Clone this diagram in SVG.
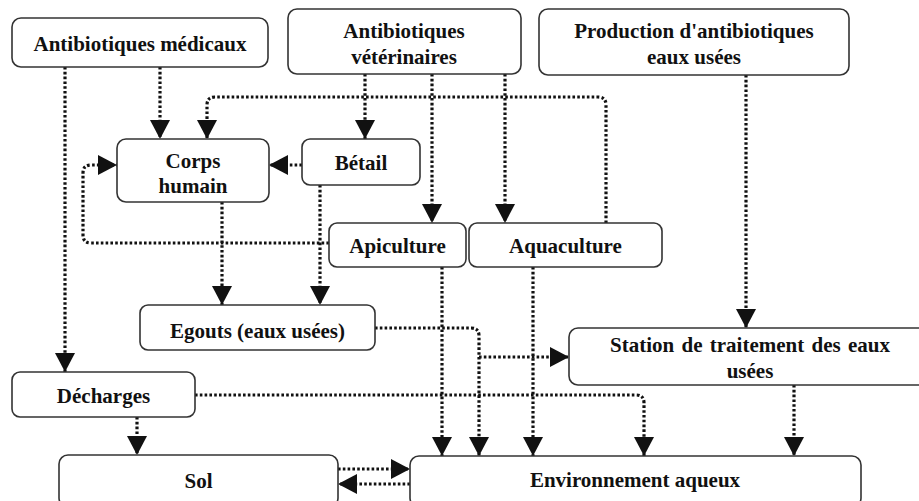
<svg xmlns="http://www.w3.org/2000/svg" width="919" height="501" viewBox="0 0 919 501">
<style>
.box{fill:#fff;stroke:#333;stroke-width:1.6}
.t{font-family:"Liberation Serif","Times New Roman",serif;font-weight:bold;font-size:21px;fill:#111;text-anchor:middle}
.c{fill:none;stroke:#111;stroke-width:3.2;stroke-dasharray:2.6 2.2}
</style>
<defs>
<marker id="ah" viewBox="0 0 19 20" refX="19" refY="10" markerWidth="19" markerHeight="20" markerUnits="userSpaceOnUse" orient="auto">
<path d="M0,0 L19,10 L0,20 z" fill="#111"/>
</marker>
</defs>
<rect width="919" height="501" fill="#fff"/>
<g id="connectors">
<path class="c" d="M65,67 V372" marker-end="url(#ah)"/>
<path class="c" d="M160,67 V139" marker-end="url(#ah)"/>
<path class="c" d="M365,74 V139" marker-end="url(#ah)"/>
<path class="c" d="M432,74 V223" marker-end="url(#ah)"/>
<path class="c" d="M505,74 V223" marker-end="url(#ah)"/>
<path class="c" d="M606,223 V105 Q606,97 598,97 H215 Q207,97 207,105 V139" marker-end="url(#ah)"/>
<path class="c" d="M302,165 H269" marker-end="url(#ah)"/>
<path class="c" d="M329,243 H91 Q83,243 83,235 V173 Q83,165 91,165 H117" marker-end="url(#ah)"/>
<path class="c" d="M222,202 V305" marker-end="url(#ah)"/>
<path class="c" d="M320,185 V305" marker-end="url(#ah)"/>
<path class="c" d="M375,328 H471 Q479,328 479,336 V456" marker-end="url(#ah)"/>
<path class="c" d="M479,357 H569" marker-end="url(#ah)"/>
<path class="c" d="M442,267 V456" marker-end="url(#ah)"/>
<path class="c" d="M533,267 V456" marker-end="url(#ah)"/>
<path class="c" d="M195,395 H636 Q644,395 644,403 V456" marker-end="url(#ah)"/>
<path class="c" d="M137,417 V455" marker-end="url(#ah)"/>
<path class="c" d="M746,75 V328" marker-end="url(#ah)"/>
<path class="c" d="M794,385 V456" marker-end="url(#ah)"/>
<path class="c" d="M338,469 H410" marker-end="url(#ah)"/>
<path class="c" d="M410,484 H338" marker-end="url(#ah)"/>
</g>
<g id="n-med"><rect class="box" x="12" y="18" width="256" height="49" rx="9"/><text class="t" x="140" y="51">Antibiotiques  médicaux</text></g>
<g id="n-vet"><rect class="box" x="288" y="9" width="233" height="65" rx="9"/><text class="t" x="404" y="38">Antibiotiques</text><text class="t" x="404" y="64">vétérinaires</text></g>
<g id="n-prod"><rect class="box" x="539" y="9" width="310" height="66" rx="9"/><text class="t" x="694" y="38">Production d'antibiotiques</text><text class="t" x="694" y="64">eaux usées</text></g>
<g id="n-corps"><rect class="box" x="117" y="139" width="152" height="63" rx="9"/><text class="t" x="193" y="168">Corps</text><text class="t" x="193" y="193">humain</text></g>
<g id="n-betail"><rect class="box" x="302" y="139" width="118" height="46" rx="8"/><text class="t" x="361" y="170">Bétail</text></g>
<g id="n-api"><rect class="box" x="329" y="223" width="137" height="44" rx="8"/><text class="t" x="397.5" y="253">Apiculture</text></g>
<g id="n-aqua"><rect class="box" x="469" y="223" width="193" height="44" rx="8"/><text class="t" x="565.5" y="253">Aquaculture</text></g>
<g id="n-egouts"><rect class="box" x="140" y="305" width="235" height="45" rx="8"/><text class="t" x="257.5" y="338">Egouts (eaux usées)</text></g>
<g id="n-stat"><rect class="box" x="569" y="328" width="362" height="57" rx="9"/><text class="t" x="750" y="352" word-spacing="2">Station de traitement des eaux</text><text class="t" x="750" y="378">usées</text></g>
<g id="n-dech"><rect class="box" x="12" y="372" width="183" height="45" rx="8"/><text class="t" x="103.5" y="403">Décharges</text></g>
<g id="n-sol"><rect class="box" x="59" y="455" width="279" height="52" rx="9"/><text class="t" x="198.5" y="488">Sol</text></g>
<g id="n-env"><rect class="box" x="410" y="456" width="451" height="51" rx="9"/><text class="t" x="635" y="487">Environnement aqueux</text></g>
</svg>
